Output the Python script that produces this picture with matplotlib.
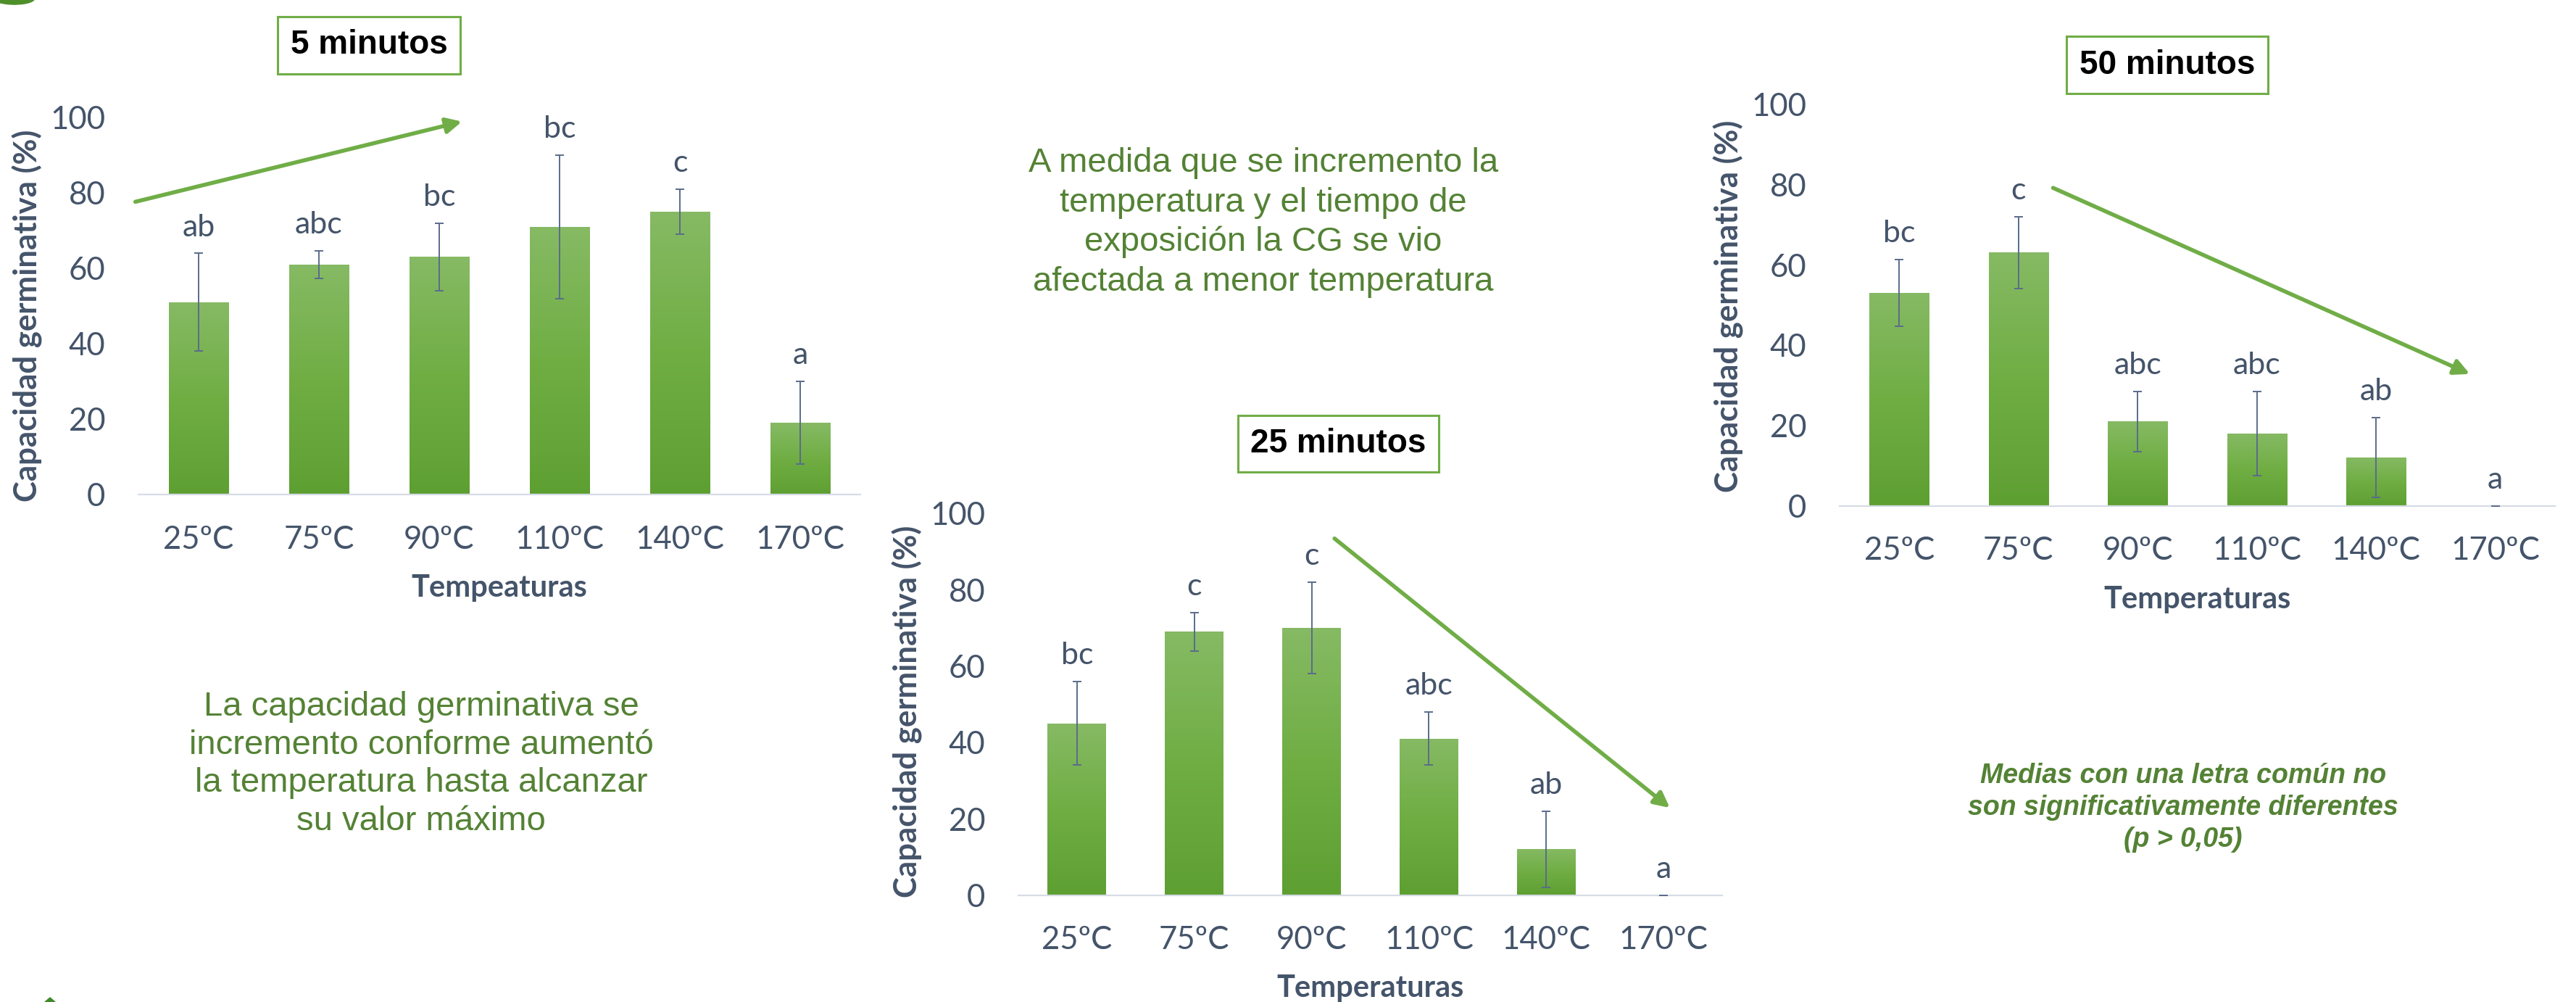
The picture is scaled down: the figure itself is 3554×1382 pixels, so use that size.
import matplotlib.pyplot as plt
import numpy as np
from matplotlib.colors import LinearSegmentedColormap
from matplotlib.patches import FancyArrowPatch, Ellipse, Polygon

# datos
temperaturas = ['25ºC', '75ºC', '90ºC', '110ºC', '140ºC', '170ºC']

cg_5 = [51, 61, 63, 71, 75, 19]
err_5 = [13, 3.7, 9, 19, 6, 11]
letras_5 = ['ab', 'abc', 'bc', 'bc', 'c', 'a']

cg_25 = [45, 69, 70, 41, 12, 0]
err_25 = [11, 5, 12, 7, 10, 0]
letras_25 = ['bc', 'c', 'c', 'abc', 'ab', 'a']

cg_50 = [53, 63, 21, 18, 12, 0]
err_50 = [8.3, 9, 7.5, 10.5, 10, 0]
letras_50 = ['bc', 'c', 'abc', 'abc', 'ab', 'a']

W, H = 3554, 1382
TXT = '#44546A'
VERDE = '#70AD47'
VERDE_OSC = '#548235'
FONT = 'Lato'

grad = LinearSegmentedColormap.from_list('g', ['#5E9F32', '#70AE44', '#86BA64'])

fig = plt.figure(figsize=(W / 100, H / 100), dpi=100)


def fx(px):
    return px / W


def fy(py):
    return 1 - py / H


def panel(x0, ytop, x1, ybot, vals, errs, letras, xlabel, ylab_y):
    ax = fig.add_axes([fx(x0), fy(ybot), (x1 - x0) / W, (ybot - ytop) / H])
    x = np.arange(len(temperaturas))
    bars = ax.bar(x, vals, width=0.5, color='none', zorder=2)
    g = np.linspace(0, 1, 256).reshape(-1, 1)
    for b in bars:
        if b.get_height() <= 0:
            continue
        im = ax.imshow(g, extent=(b.get_x(), b.get_x() + b.get_width(), 0, b.get_height()),
                       origin='lower', aspect='auto', cmap=grad, zorder=2)
        im.set_clip_path(b)
    ax.errorbar(x, vals, yerr=errs, fmt='none', ecolor='#5A6B8C', elinewidth=1.4,
                capsize=4.5, capthick=1.4, zorder=3)
    for xi, v, e, l in zip(x, vals, errs, letras):
        ax.annotate(l, (xi, v + e), xytext=(0, 17), textcoords='offset points',
                    ha='center', va='baseline', fontsize=31, color=TXT,
                    family=FONT, annotation_clip=False)
    ax.set_xlim(-0.5, len(x) - 0.5)
    ax.set_ylim(0, 100)
    ax.set_yticks(range(0, 101, 20))
    ax.set_xticks(x)
    ax.set_xticklabels(temperaturas)
    for s in ['top', 'right', 'left']:
        ax.spines[s].set_visible(False)
    ax.spines['bottom'].set_color('#D6DCE5')
    ax.spines['bottom'].set_linewidth(1.6)
    ax.tick_params(length=0, labelsize=31.5, labelcolor=TXT)
    ax.tick_params(axis='y', pad=33)
    ax.tick_params(axis='x', pad=30)
    for t in ax.get_xticklabels() + ax.get_yticklabels():
        t.set_family(FONT)
    hpx = ybot - ytop
    wpx = x1 - x0
    ax.set_xlabel(xlabel, fontsize=30, fontweight='bold', color=TXT, family=FONT, va='center')
    ax.xaxis.set_label_coords(0.5, -129 / hpx)
    ax.set_ylabel('Capacidad germinativa (%)', fontsize=31.5, fontweight='bold',
                  color=TXT, family=FONT, va='center')
    ax.yaxis.set_label_coords(-153 / wpx, ylab_y)
    ax.set_facecolor('none')
    return ax


panel(191, 162, 1187, 682, cg_5, err_5, letras_5, 'Tempeaturas', 0.475)
panel(1405, 708, 2376, 1234.5, cg_25, err_25, letras_25, 'Temperaturas', 0.48)
panel(2538, 143.5, 3525, 697.5, cg_50, err_50, letras_50, 'Temperaturas', 0.497)

# cajas de titulo
for txt, cx, cy in [('5 minutos', 509, 62.5), ('25 minutos', 1846.5, 612), ('50 minutos', 2990, 89.5)]:
    fig.text(fx(cx), fy(cy), txt, ha='center', va='center', fontsize=33,
             fontweight='bold', family='Liberation Sans', color='black',
             bbox=dict(boxstyle='square,pad=0.38', fc='white', ec=VERDE, lw=2.2))

# flechas de tendencia
for (xa, ya), (xb, yb) in [((184, 279), (640, 167)), ((1839, 741), (2306, 1116)),
                           ((2830, 258), (3410, 517))]:
    fig.add_artist(FancyArrowPatch((fx(xa), fy(ya)), (fx(xb), fy(yb)),
                                   transform=fig.transFigure, arrowstyle='-|>',
                                   mutation_scale=32, lw=4, color=VERDE))

fig.text(fx(1743), fy(307),
         'A medida que se incremento la\ntemperatura y el tiempo de\n'
         'exposición la CG se vio\nafectada a menor temperatura',
         ha='center', va='center', fontsize=34, color=VERDE_OSC,
         family='Liberation Sans', linespacing=1.3)

fig.text(fx(581), fy(1054),
         'La capacidad germinativa se\nincremento conforme aumentó\n'
         'la temperatura hasta alcanzar\nsu valor máximo',
         ha='center', va='center', fontsize=34, color=VERDE_OSC,
         family='Liberation Sans', linespacing=1.25)

fig.text(fx(3012), fy(1114),
         'Medias con una letra común no\nson significativamente diferentes\n(p > 0,05)',
         ha='center', va='center', fontsize=27, color=VERDE_OSC, family='Liberation Sans',
         fontweight='bold', style='italic', linespacing=1.3)

# restos decorativos de la diapositiva
fig.add_artist(Ellipse((fx(18), fy(-3)), 60 / W, 18 / H, angle=-8, transform=fig.transFigure,
                       color='#4E8F2A'))
fig.add_artist(Polygon([(fx(62), fy(1382)), (fx(69), fy(1376)), (fx(76), fy(1382))],
                       closed=True, transform=fig.transFigure, color='#3F8A2A'))

fig.savefig('out.png', dpi=100)
